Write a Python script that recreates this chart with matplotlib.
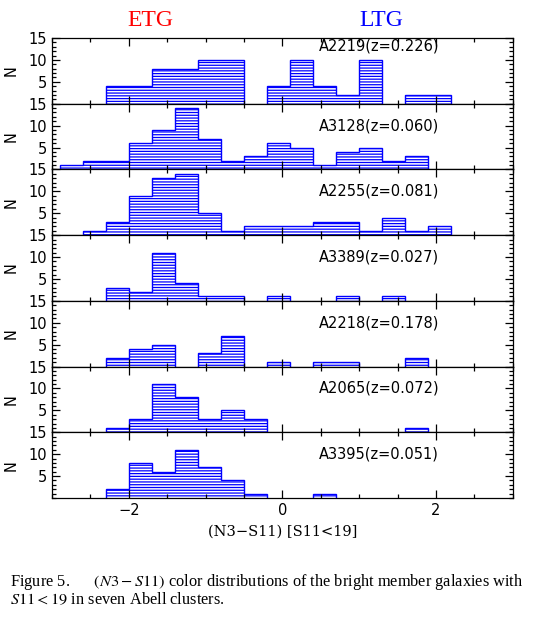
import matplotlib
matplotlib.use('Agg')
import matplotlib.pyplot as plt
from matplotlib.ticker import MultipleLocator, FixedLocator

# colour bins of width 0.3 in (N3-S11)
edges = [-2.9, -2.6, -2.3, -2.0, -1.7, -1.4, -1.1, -0.8, -0.5, -0.2,
         0.1, 0.4, 0.7, 1.0, 1.3, 1.6, 1.9, 2.2]

clusters = ['A2219', 'A3128', 'A2255', 'A3389', 'A2218', 'A2065', 'A3395']
redshifts = ['0.226', '0.060', '0.081', '0.027', '0.178', '0.072', '0.051']

n_a2219 = [0, 0, 4, 4, 8, 8, 10, 10, 0, 4, 10, 4, 2, 10, 0, 2, 2]
n_a3128 = [1, 2, 2, 6, 9, 14, 7, 2, 3, 6, 5, 1, 4, 5, 2, 3, 0]
n_a2255 = [0, 1, 3, 9, 13, 14, 5, 1, 2, 2, 2, 3, 3, 1, 4, 1, 2]
n_a3389 = [0, 0, 3, 2, 11, 4, 1, 1, 0, 1, 0, 0, 1, 0, 1, 0, 0]
n_a2218 = [0, 0, 2, 4, 5, 0, 3, 7, 0, 1, 0, 1, 1, 0, 0, 2, 0]
n_a2065 = [0, 0, 1, 3, 11, 8, 3, 5, 3, 0, 0, 0, 0, 0, 0, 1, 0]
n_a3395 = [0, 0, 2, 8, 6, 11, 7, 4, 1, 0, 0, 1, 0, 0, 0, 0, 0]
counts = [n_a2219, n_a3128, n_a2255, n_a3389, n_a2218, n_a2065, n_a3395]

plt.rcParams['hatch.linewidth'] = 0.9
plt.rcParams['mathtext.fontset'] = 'stix'


def runs(n):
    # contiguous stretches of non-empty bins, so no outline runs along the axis
    out, start = [], None
    for k, v in enumerate(list(n) + [0]):
        if v and start is None:
            start = k
        elif not v and start is not None:
            out.append((start, k))
            start = None
    return out


fig = plt.figure(figsize=(5.45, 6.25), dpi=100)
left, right, top, bottom = 0.0954, 0.941, 0.9392, 0.2032
h = (top - bottom) / len(clusters)

for i, (name, z, n) in enumerate(zip(clusters, redshifts, counts)):
    ax = fig.add_axes([left, top - (i + 1) * h, right - left, h])
    ax.stairs(n, edges, fill=True, facecolor='white', edgecolor='blue',
              hatch='------', linewidth=0)
    for a, b in runs(n):
        ax.stairs(n[a:b], edges[a:b + 1], color='blue', linewidth=1.0)
    ax.set_xlim(-3, 3)
    ax.set_ylim(0, 15)
    ax.xaxis.set_major_locator(MultipleLocator(2))
    ax.xaxis.set_minor_locator(MultipleLocator(0.5))
    ax.yaxis.set_major_locator(FixedLocator([5, 10, 15]))
    ax.yaxis.set_minor_locator(MultipleLocator(1))
    ax.tick_params(which='both', direction='in', top=True, right=True,
                   labelsize=10.5, width=0.9)
    ax.tick_params(which='major', length=6)
    ax.tick_params(which='minor', length=3)
    for s in ax.spines.values():
        s.set_linewidth(0.9)
        s.set_zorder(3)
    ax.set_ylabel('N', fontsize=10.5, labelpad=7)
    ty = 13.2 if i == 0 else 10
    ax.text(0.48, ty, f'{name}(z={z})', fontsize=10.5, va='center', ha='left')
    if i < len(clusters) - 1:
        ax.tick_params(labelbottom=False)
    else:
        ax.set_xlabel('(N3\u2212S11) [S11<19]', family='DejaVu Serif',
                      fontsize=10.5, labelpad=5)

fig.text(150 / 545, 1 - 20 / 625, 'ETG', color='red', fontsize=17,
         family='Liberation Serif', ha='center', va='center')
fig.text(381 / 545, 1 - 20 / 625, 'LTG', color='blue', fontsize=17,
         family='Liberation Serif', ha='center', va='center')

fig.text(10 / 545, 1 - 582 / 625,
         r'Figure 5.      $(N3-S11)$ color distributions of the bright member galaxies with',
         fontsize=11.8, family='Liberation Serif', ha='left', va='center')
fig.text(10 / 545, 1 - 600 / 625,
         r'$S11 < 19$ in seven Abell clusters.',
         fontsize=11.8, family='Liberation Serif', ha='left', va='center')

fig.savefig('out.png', dpi=100)
